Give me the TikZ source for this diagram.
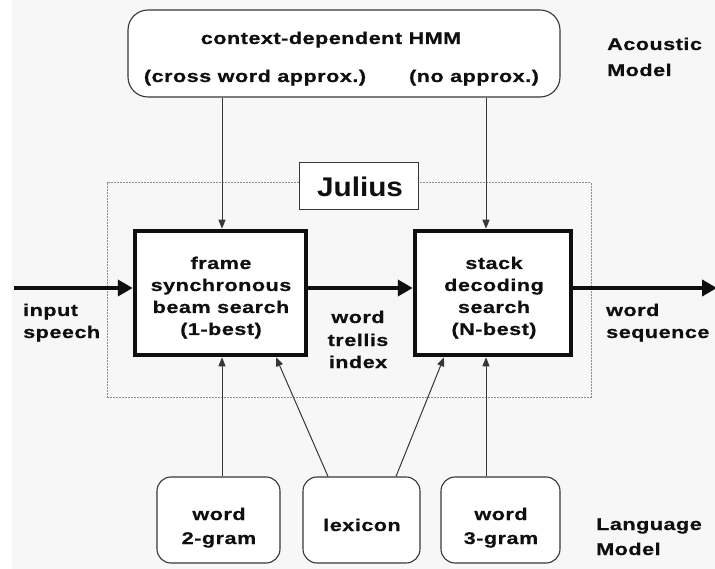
\documentclass[tikz,border=0pt]{standalone}
\usepackage{fontspec}
\usetikzlibrary{arrows.meta}
\newfontfamily\labfont{Liberation Sans}[FakeStretch=1.27,LetterSpace=3,FakeBold=0.6]
\newfontfamily\julfont{Liberation Sans}[FakeStretch=1.1]
\definecolor{bg}{RGB}{247,247,247}
\definecolor{ink}{RGB}{15,15,15}
\definecolor{thinc}{RGB}{55,55,55}
\definecolor{dashc}{RGB}{140,140,140}
\begin{document}
\begin{tikzpicture}[x=1pt,y=-1pt,
  lbl/.style={font=\labfont\bfseries\fontsize{17}{20}\selectfont, text=ink, inner sep=0pt, anchor=base},
  lbll/.style={lbl, anchor=base west},
  roundbox/.style={draw=thinc, line width=1.1pt, rounded corners=14pt, fill=white, inner sep=0pt},
  searchbox/.style={draw=ink, line width=4.5pt, fill=white, inner sep=0pt},
  thinarrow/.style={draw=thinc, line width=1pt, -{Triangle[length=9pt,width=7pt]}},
  thickarrow/.style={draw=ink, line width=4.5pt, -{Triangle[length=15pt,width=16pt]}},
]
\useasboundingbox (0,0) rectangle (715,569);
\fill[bg] (12,0) rectangle (715,569);

% Julius frame
\node[draw=dashc, line width=1pt, dash pattern=on 2pt off 1pt, minimum width=484pt, minimum height=214pt, inner sep=0pt] (frame) at (349,290) {};
\node[draw=thinc, line width=1pt, fill=white, minimum width=119pt, minimum height=47pt, inner sep=0pt] (jl) at (358.5,186.5) {};
\node[font=\julfont\bfseries\fontsize{27}{30}\selectfont, text=ink, inner sep=0pt, anchor=base] (jt) at (360,197) {Julius};

% acoustic model
\node[roundbox, rounded corners=20pt, minimum width=432pt, minimum height=87pt] (hmm) at (344,53.5) {};
\node[lbl] (h1) at (331,44) {context-dependent HMM};
\node[lbl] (h2) at (255,82) {(cross word approx.)};
\node[lbl] (h3) at (474,82) {(no approx.)};
\node[lbll] (am1) at (607,50) {Acoustic};
\node[lbll] (am2) at (607,76) {Model};

% search boxes
\node[searchbox, minimum width=171pt, minimum height=124pt] (lb) at (220.5,293) {};
\node[searchbox, minimum width=156pt, minimum height=124pt] (rb) at (493,293) {};
\node[lbl] (l1) at (221,269) {frame};
\node[lbl] (l2) at (221,291) {synchronous};
\node[lbl] (l3) at (221,313) {beam search};
\node[lbl] (l4) at (221,335) {(1-best)};
\node[lbl] (r1) at (494,269) {stack};
\node[lbl] (r2) at (494,291) {decoding};
\node[lbl] (r3) at (494,313) {search};
\node[lbl] (r4) at (494,335) {(N-best)};

% io labels
\node[lbll] (i1) at (23,316) {input};
\node[lbll] (i2) at (23,338) {speech};
\node[lbl] (w1) at (358,323) {word};
\node[lbl] (w2) at (358,346) {trellis};
\node[lbl] (w3) at (358,368) {index};
\node[lbll] (o1) at (606,316) {word};
\node[lbll] (o2) at (606,338) {sequence};

% language model
\node[roundbox, minimum width=123pt, minimum height=86pt] (g2) at (218.5,520) {};
\node[roundbox, minimum width=117pt, minimum height=86pt] (lex) at (361.5,520) {};
\node[roundbox, minimum width=119pt, minimum height=86pt] (g3) at (500.5,520) {};
\node[lbl] (g2a) at (219,520) {word};
\node[lbl] (g2b) at (219,544) {2-gram};
\node[lbl] (lx) at (362,531) {lexicon};
\node[lbl] (g3a) at (501,520) {word};
\node[lbl] (g3b) at (501,544) {3-gram};
\node[lbll] (lm1) at (596,530) {Language};
\node[lbll] (lm2) at (596,555) {Model};

% coordinates
\coordinate (inS) at (14,288);
\coordinate (outE) at (717,288);
\coordinate (hl) at (222,0);
\coordinate (hr) at (486,0);
\coordinate (lxl) at (328,0);
\coordinate (lxr) at (396,0);
\coordinate (lbl2) at (276,0);
\coordinate (rbl2) at (444,0);
\coordinate (my) at (0,288);

% thick flow
\draw[thickarrow] (inS) -- (lb.west |- my);
\draw[thickarrow] (lb.east |- my) -- (rb.west |- my);
\draw[thickarrow] (rb.east |- my) -- (outE);

% thin arrows
\draw[thinarrow] (hmm.south -| hl) -- (lb.north -| hl);
\draw[thinarrow] (hmm.south -| hr) -- (rb.north -| hr);
\draw[thinarrow] (g2.north -| hl) -- (lb.south -| hl);
\draw[thinarrow] (g3.north -| hr) -- (rb.south -| hr);
\draw[thinarrow] (lex.north -| lxl) -- (lb.south -| lbl2);
\draw[thinarrow] (lex.north -| lxr) -- (rb.south -| rbl2);
\end{tikzpicture}
\end{document}
